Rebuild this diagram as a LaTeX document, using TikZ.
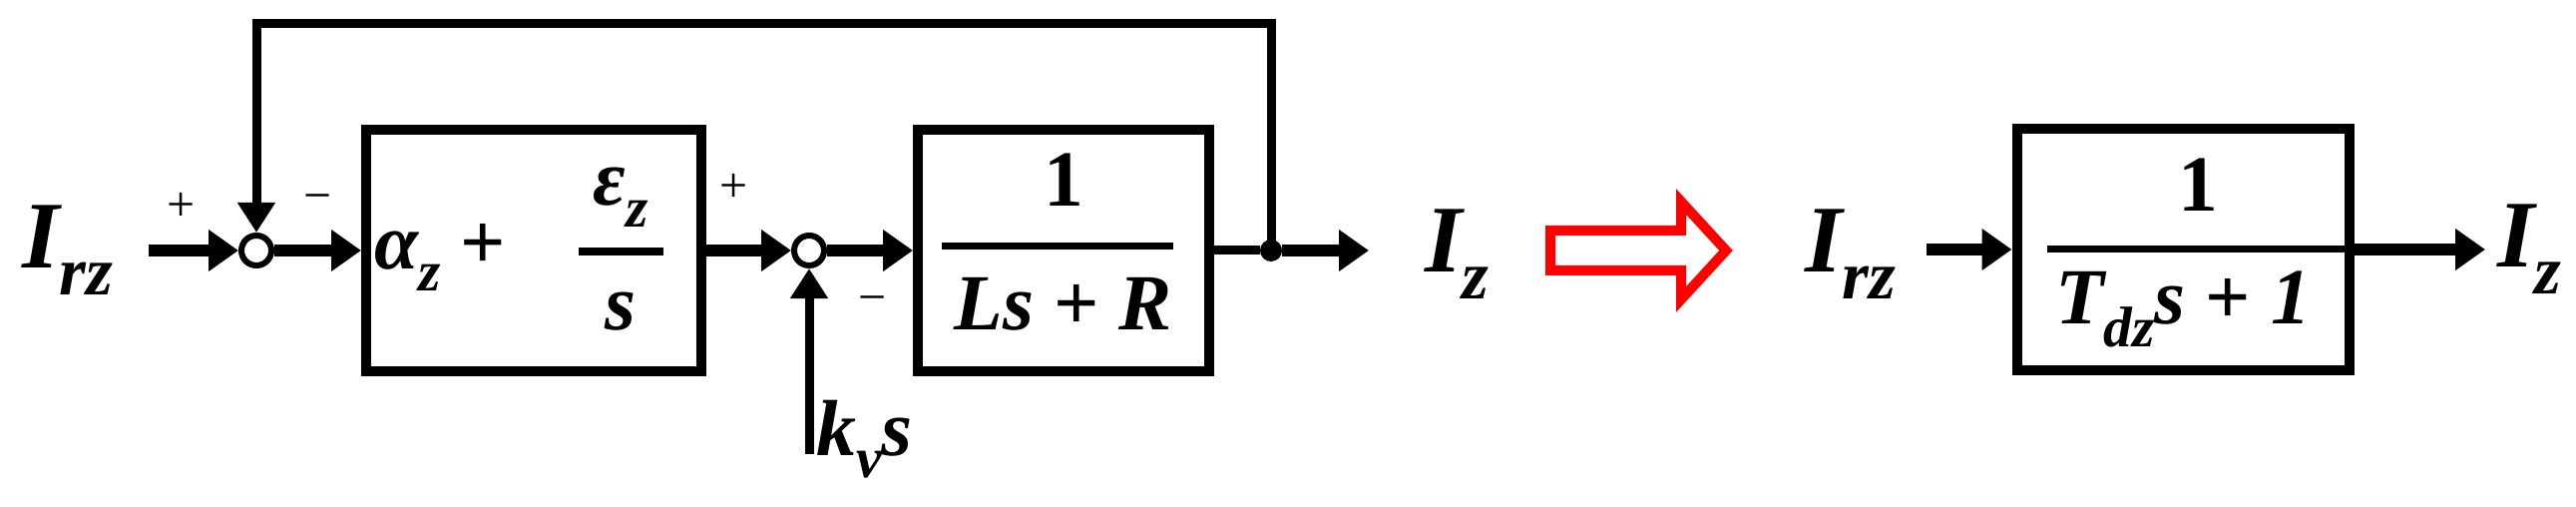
\documentclass[tikz,border=0pt]{standalone}
\usepackage{fontspec}
\setmainfont{Liberation Serif}
\usetikzlibrary{arrows.meta}
\newcommand\mysub[1]{\raisebox{-0.28em}{\scalebox{0.72}{#1}}}
\begin{document}
\begin{tikzpicture}[x=1bp,y=-1bp,
  blk/.style={draw,line width=10bp,minimum width=#1,minimum height=242bp,inner sep=0},
  sig/.style={line width=12bp,-{Triangle[length=30bp,width=40bp]}},
  fb/.style={line width=9bp},
  sumj/.style={circle,draw,fill=white,line width=6bp,minimum size=30bp,inner sep=0},
  big/.style={font=\fontsize{96}{106}\selectfont\bfseries\itshape},
  mid/.style={font=\fontsize{80}{90}\selectfont\bfseries\itshape},
  sgn/.style={font=\fontsize{50}{55}\selectfont}]
\useasboundingbox (0,0) rectangle (2582,508);
% left diagram
\node[big,anchor=center] (irz) at (68,251) {I\mysub{rz}};
\coordinate (in1) at (149,251);
\node[sumj] (s1) at (257,251) {};
\node[blk=336bp] (b1) at (535,251) {};
\node[sumj] (s2) at (811,251) {};
\node[blk=292bp] (b2) at (1066,251) {};
\node[circle,fill,inner sep=0,minimum size=22bp] (dot) at (1274,251) {};
\coordinate (out1) at (1372,251);
\node[big] (iz1) at (1460,255) {I\mysub{z}};
\coordinate (top1) at (1274,24);
\coordinate (top0) at (257,24);
\coordinate (kin) at (811,455);
\node[mid,anchor=west] (kv) at (815,440) {k\mysub{v}s};
\draw[sig] (in1) -- (s1);
\draw[sig] (s1) -- (b1.west);
\draw[sig] (b1.east) -- (s2);
\draw[sig] (s2) -- (b2.west);
\draw[fb] (b2.east) -- (dot);
\draw[sig] (dot) -- (out1);
\draw[fb,-{Triangle[length=30bp,width=36bp]}] (dot.center) -- (top1) -- (top0) -- (s1);
\draw[fb,-{Triangle[length=30bp,width=36bp]}] (kin) -- (s2);
% box1 content
\node[mid,anchor=west] (az) at (372,258) {α\mysub{z} {\upshape +}};
\node[mid] (ez) at (622,198) {ε\mysub{z}};
\node[mid] (sd) at (622,312) {s};
\draw[line width=8bp] (580,252) -- (665,252);
% box2 content
\node[mid] (one2) at (1066,180) {\upshape 1};
\draw[line width=7bp] (944,247) -- (1176,247);
\node[mid] (den2) at (1066,305) {Ls {\upshape +} R};
% signs
\node[sgn] (p1) at (182,207) {+};
\node[sgn] (m1) at (319,204) {−};
\node[sgn] (p2) at (736,188) {+};
\node[sgn] (m2) at (875,306) {−};
% red arrow
\draw[red,line width=10bp,line join=miter] (1554,231) -- (1685,231) -- (1685,202) -- (1730,251) -- (1685,300) -- (1685,271) -- (1554,271) -- cycle;
% right diagram
\node[big] (irz2) at (1855,255) {I\mysub{rz}};
\coordinate (in3) at (1931,250);
\node[blk=333bp] (b3) at (2188,250) {};
\draw[sig] (in3) -- (b3.west);
\coordinate (out3) at (2491,250);
\draw[sig] (b3.east) -- (out3);
\node[big] (iz2) at (2535,250) {I\mysub{z}};
\node[mid] (one3) at (2203,185) {\upshape 1};
\draw[line width=7bp] (2052,250) -- (2350,250);
\node[mid] (den3) at (2188,310) {T\mysub{dz}s {\upshape +} 1};
\end{tikzpicture}
\end{document}
